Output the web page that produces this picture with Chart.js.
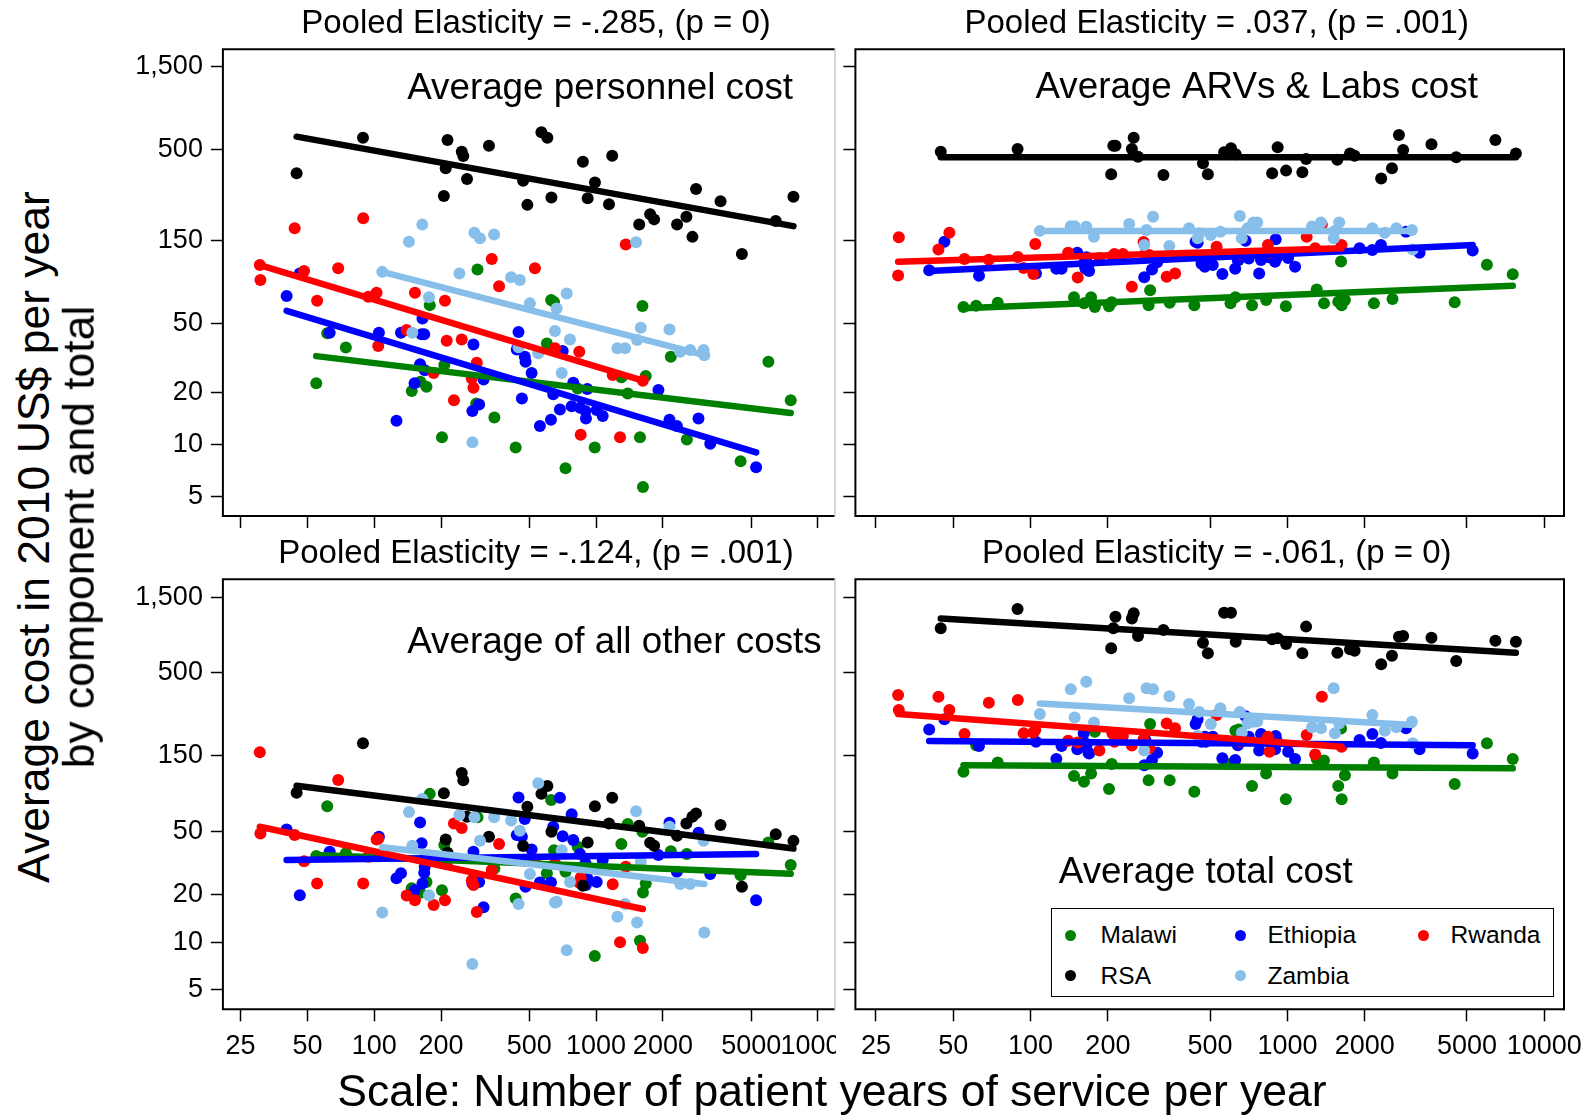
<!DOCTYPE html>
<html>
<head>
<meta charset="utf-8">
<script src="https://cdn.jsdelivr.net/npm/chart.js@4.4.0/dist/chart.umd.min.js"></script>
<style>
  html, body { margin: 0; padding: 0; background: #fff; }
  body { position: relative; width: 1595px; height: 1116px; overflow: hidden;
         font-family: "Liberation Sans", Arial, Helvetica, sans-serif; color: #000; }
  canvas { position: absolute; }
  .axis-title { position: absolute; white-space: nowrap; font-size: 44.5px; line-height: 1; }
  #legend { position: absolute; left: 1051px; top: 908px; width: 503px; height: 89px;
            border: 1.5px solid #000; box-sizing: border-box; background: #fff; }
  #legend .dot { position: absolute; width: 11px; height: 11px; border-radius: 50%; margin: -5.5px 0 0 -5.5px; }
  #legend .name { position: absolute; font-size: 24.5px; line-height: 1; transform: translateY(-50%); white-space: nowrap; }
</style>
</head>
<body>
<canvas id="personnel" width="736" height="540" style="left:100px;top:0px"></canvas>
<canvas id="arvlab" width="759" height="540" style="left:836px;top:0px"></canvas>
<canvas id="other" width="736" height="591" style="left:100px;top:525px"></canvas>
<canvas id="total" width="759" height="591" style="left:836px;top:525px"></canvas>

<div class="axis-title" style="left:832px;top:1091px;transform:translate(-50%,-50%)">Scale: Number of patient years of service per year</div>
<div class="axis-title" style="left:34px;top:537px;transform:translate(-50%,-50%) rotate(-90deg)">Average cost in 2010 US$ per year</div>
<div class="axis-title" style="left:79px;top:537px;transform:translate(-50%,-50%) rotate(-90deg)">by component and total</div>
<div id="legend"></div>

<script>
"use strict";

var countries = ['Malawi', 'Ethiopia', 'Rwanda', 'RSA', 'Zambia'];
var countryColors = ['#008000', '#0000ff', '#ff0000', '#000000', '#87bfea'];

var xTicks = [25, 50, 100, 200, 500, 1000, 2000, 5000, 10000];
var xTickLabels = ['25', '50', '100', '200', '500', '1000', '2000', '5000', '10000'];
var yTicks = [5, 10, 20, 50, 150, 500, 1500];
var yTickLabels = ['5', '10', '20', '50', '150', '500', '1,500'];

// patient years of service per year, one entry per facility
var malawiYears = [54.8, 61.4, 74.5, 147.6, 161.4, 172, 178, 202, 207, 288, 292, 348, 434, 600, 627, 646, 728, 826, 986, 1300, 1388, 1577, 1617, 1626, 1674, 2171, 2564, 4478, 5977, 7535];
var ethiopiaYears = [40.3, 46.2, 63, 105, 126, 132, 152, 161, 163.5, 165, 168, 169, 277, 280, 297, 311, 439, 447, 463, 477, 481, 512, 558, 626, 641, 687, 707, 776, 789, 846, 895, 900, 913, 1006, 1071, 1909, 2141, 2312, 2894, 3269, 5261];
var rwandaYears = [30.5, 30.7, 43.8, 48.3, 55.3, 68.8, 89.2, 94, 102.5, 104.3, 140, 152.6, 185.3, 208.4, 212.1, 228.8, 247.9, 275.3, 280.2, 289.9, 338.7, 365.4, 529.9, 652.8, 839.7, 852, 1188, 1282, 1361, 1624];
var rsaYears = [44.7, 89, 206, 210, 214, 248, 252, 262, 329, 469, 490, 567, 603, 629, 872, 916, 988, 1143, 1182, 1564, 1752, 1826, 2317, 2552, 2717, 2821, 3637, 4540, 6450, 7750];
var zambiaYears = [108.7, 143.4, 148.5, 164.7, 176.5, 242, 277, 282.8, 299.8, 347, 414, 447.2, 453.3, 503, 548.3, 652.5, 664.2, 699.6, 736.9, 762.6, 1247, 1351, 1514, 1530, 1590, 2141, 2393, 2655, 3051, 3073];

// average personnel cost
var malawiPersonnel = [22.5, 43.7, 36.2, 20.3, 23.0, 21.5, 63.5, 11.0, 28.7, 17.2, 102, 14.3, 9.6, 38.2, 68, 66.3, 7.3, 21, 9.6, 24.4, 19.7, 11.0, 62.7, 5.7, 24.8, 32, 10.7, 8.0, 30, 18];
var ethiopiaPersonnel = [71.6, 96.6, 44, 44, 13.7, 44, 22.5, 29, 43.1, 53.2, 43.1, 26.8, 15.6, 37.7, 17, 23.7, 35.3, 44.5, 18.4, 32, 30, 25.8, 12.8, 13.9, 19.5, 15.9, 34.6, 16.6, 22.7, 16.3, 15.6, 14.1, 20.9, 15.8, 14.6, 20.6, 13.9, 12.8, 14.1, 10.1, 7.4];
var rwandaPersonnel = [108, 88.5, 176, 99.8, 67.2, 103.5, 201, 70.9, 74.8, 36.9, 45.6, 74.8, 25.8, 67.2, 39.6, 18, 40.3, 24, 21.2, 29.6, 117, 81.6, 103.5, 35.8, 34.2, 11.4, 25.1, 11, 142, 23.3];
var rsaPersonnel = [365, 585, 270, 390, 567, 485, 459, 338, 526, 330, 240, 628, 585, 265, 425, 262, 323, 242, 460, 185, 212, 198, 185, 205, 157, 296, 252, 125, 194, 267];
var zambiaPersonnel = [98.7, 147, 44, 184.7, 70.4, 96.6, 10.3, 166, 154, 162, 91.8, 36.3, 88.5, 65, 33.5, 45, 60.8, 25.8, 74.2, 40.3, 35.8, 35.8, 146, 40, 47, 46, 34.2, 35, 35, 32.7];

// average ARVs & labs cost
var malawiArvLab = [62, 63, 65.6, 70.5, 65, 70.5, 62, 62.6, 66, 63.4, 77.4, 65.6, 63.4, 65, 70.5, 115.7, 63.4, 68, 62.6, 78.2, 65, 66.4, 113.3, 63.4, 68, 65, 68.9, 66, 108.4, 95.6];
var ethiopiaArvLab = [101, 147, 93.8, 96.6, 103, 103, 127, 110, 103, 120, 108, 100, 91.9, 125, 102, 112, 147, 145, 110, 105.5, 112, 108, 96, 103, 115, 149, 118, 96.6, 115.7, 120, 113, 152, 120, 118.5, 105.5, 135, 132, 141, 168, 127, 131];
var rwandaArvLab = [94, 156, 133, 166, 117, 116, 120.4, 104, 96, 143, 127, 91.5, 118.6, 122, 125, 125, 81, 146.6, 125, 123.3, 92.5, 96.6, 137.9, 125, 141, 127, 157, 135, 184.6, 141];
var rsaArvLab = [485, 503, 360, 526, 526, 503, 585, 455, 357, 417, 360, 482, 508, 469, 365, 515, 378, 370, 441, 436, 475, 460, 341, 390, 607, 497, 536, 451, 567, 475];
var zambiaArvLab = [170, 181, 181, 179.6, 157, 186, 141, 172, 205, 139, 176, 154, 164.6, 161, 168, 207, 154, 176, 189.7, 189.7, 180, 189.7, 154, 170, 189.7, 176, 166, 176, 172, 133];

// average of all other costs
var malawiOther = [35, 72.2, 36.4, 21.9, 20.5, 24, 86.3, 21.3, 41, 24, 61.5, 29.2, 18.9, 27.2, 78.9, 38, 27.8, 40, 8.2, 41.7, 55.7, 10.2, 49.7, 20.6, 23.5, 37.5, 36, 26.5, 42.6, 30.7];
var ethiopiaOther = [51.5, 19.8, 37.2, 46.3, 25.3, 27.2, 21.3, 57, 42.1, 23.5, 27.4, 29.9, 23.5, 37.2, 24, 16.6, 47.5, 82, 46.3, 59.9, 22.4, 38.5, 23.8, 23.8, 53.5, 81.5, 46.7, 64.1, 44.1, 36, 31.5, 23, 25.3, 24, 33, 35.5, 56.7, 27.8, 49.1, 26.9, 18.4];
var rwandaOther = [158, 48.6, 47.5, 32.4, 23.5, 105.5, 23.5, 34.6, 44.5, 45, 19.7, 18.4, 17.2, 18.4, 31.1, 56.2, 52.6, 24.6, 23, 15.5, 28.6, 41.7, 33.3, 31.5, 23.7, 25.5, 23.2, 10, 29.9, 9.2];
var rsaOther = [87.7, 180, 87, 44.5, 36.7, 117, 105, 62, 46.3, 40.4, 71.6, 86.3, 96.8, 49.8, 22.7, 42.6, 72.2, 56.2, 81.5, 54.3, 42.4, 40.6, 47, 56.2, 62, 65, 54.9, 22.4, 48, 43.6];
var zambiaOther = [15.4, 66.4, 40.6, 80.1, 19.8, 63.4, 7.3, 61.5, 43.7, 61.5, 58.6, 17.4, 50.5, 26.9, 100.7, 17.8, 18, 38.1, 8.9, 24, 14.5, 17.4, 67.1, 13.3, 32.2, 53.5, 23.3, 23.3, 43.7, 11.5];

// average total cost
var malawiTotal = [119, 175, 136, 112, 103, 116, 213, 92.6, 133, 105, 238, 105, 89, 133, 216, 220, 96.8, 116, 79.8, 143, 140, 96.8, 223, 79.8, 113, 136, 116, 99.5, 180, 143];
var ethiopiaTotal = [220, 255, 173, 184, 143, 173, 165, 208, 180, 174, 157, 155, 131, 189, 141, 157, 238, 255, 184, 198, 184, 198, 145, 141, 175, 267, 198, 162, 206, 189, 165, 200, 184, 159, 143, 189, 206, 181, 224, 165, 155];
var rwandaTotal = [363, 292, 354, 292, 206, 324, 337, 208, 210, 218, 187, 182, 162, 208, 184, 200, 174, 191, 167, 168, 240, 224, 271, 184, 198, 159, 203, 153, 354, 171];
var rsaTotal = [956, 1264, 715, 956, 1131, 1104, 1189, 855, 934, 776, 665, 1200, 1200, 787, 815, 827, 761, 665, 980, 670, 705, 690, 568, 642, 846, 855, 834, 594, 798, 787];
var zambiaTotal = [275, 394, 262, 440, 243, 346, 162, 400, 394, 357, 318, 200, 284, 238, 299, 284, 210, 240, 246, 247, 227, 224, 400, 208, 240, 271, 216, 227, 246, 180];

// fitted log-log lines: cost at smallest and largest facility of each country
var personnelFitStart = [32.3, 58.9, 108, 593, 98.7];
var personnelFitEnd = [15.2, 9.0, 23.3, 181, 32.7];
var arvLabFitStart = [61, 100, 113, 451, 170];
var arvLabFitEnd = [82, 141, 135, 451, 170];
var otherFitStart = [35.5, 33, 53.5, 97, 39.7];
var otherFitEnd = [27, 36, 16.2, 39, 23.3];
var totalFitStart = [131, 186, 275, 1104, 321];
var totalFitEnd = [125, 175, 171, 670, 235];

var countryYears = [malawiYears, ethiopiaYears, rwandaYears, rsaYears, zambiaYears];

var FONT = '"Liberation Sans", Arial, Helvetica, sans-serif';
Chart.defaults.font.family = FONT;
Chart.defaults.color = '#000';

var panels = [
    {
        id: 'personnel',
        title: 'Pooled Elasticity = -.285, (p = 0)',
        label: 'Average personnel cost',
        values: [malawiPersonnel, ethiopiaPersonnel, rwandaPersonnel, rsaPersonnel, zambiaPersonnel],
        fitStart: personnelFitStart, fitEnd: personnelFitEnd,
        yMin: 3.875, yMax: 1889,
        leftLabels: true, bottomLabels: false,
        yAxisWidth: 122.9, xAxisHeight: 24, padTop: 49.3, padRight: 1,
        labelX: 0.301, labelY: 0.084, rightEdge: '#c8c8c8'
    },
    {
        id: 'arvlab',
        title: 'Pooled Elasticity = .037, (p = .001)',
        label: 'Average ARVs & Labs cost',
        values: [malawiArvLab, ethiopiaArvLab, rwandaArvLab, rsaArvLab, zambiaArvLab],
        fitStart: arvLabFitStart, fitEnd: arvLabFitEnd,
        yMin: 3.875, yMax: 1889,
        leftLabels: false, bottomLabels: false,
        yAxisWidth: 19.4, xAxisHeight: 24, padTop: 49.3, padRight: 31,
        labelX: 0.254, labelY: 0.082, rightEdge: '#000'
    },
    {
        id: 'other',
        title: 'Pooled Elasticity = -.124, (p = .001)',
        label: 'Average of all other costs',
        values: [malawiOther, ethiopiaOther, rwandaOther, rsaOther, zambiaOther],
        fitStart: otherFitStart, fitEnd: otherFitEnd,
        yMin: 3.774, yMax: 1949,
        leftLabels: true, bottomLabels: true,
        yAxisWidth: 122.9, xAxisHeight: 106.7, padTop: 54.3, padRight: 1,
        labelX: 0.301, labelY: 0.148, rightEdge: '#c8c8c8'
    },
    {
        id: 'total',
        title: 'Pooled Elasticity = -.061, (p = 0)',
        label: 'Average total cost',
        values: [malawiTotal, ethiopiaTotal, rwandaTotal, rsaTotal, zambiaTotal],
        fitStart: totalFitStart, fitEnd: totalFitEnd,
        yMin: 3.774, yMax: 1949,
        leftLabels: false, bottomLabels: true,
        yAxisWidth: 19.4, xAxisHeight: 106.7, padTop: 54.3, padRight: 31,
        labelX: 0.287, labelY: 0.683, rightEdge: '#000'
    }
];

// frame, panel heading and the text label inside each plot
var panelDecor = {
    id: 'panelDecor',
    afterDraw: function (chart, args, opts) {
        var a = chart.chartArea;
        var ctx = chart.ctx;
        ctx.save();
        ctx.strokeStyle = '#000';
        ctx.lineWidth = 2;
        ctx.beginPath();
        ctx.moveTo(a.right, a.top);
        ctx.lineTo(a.left, a.top);
        ctx.lineTo(a.left, a.bottom);
        ctx.lineTo(a.right, a.bottom);
        ctx.stroke();
        ctx.strokeStyle = opts.rightEdge;
        ctx.lineWidth = opts.rightEdge === '#000' ? 2 : 1.5;
        ctx.beginPath();
        ctx.moveTo(a.right, a.top - 1);
        ctx.lineTo(a.right, a.bottom + 1);
        ctx.stroke();

        ctx.fillStyle = '#000';
        ctx.textBaseline = 'middle';
        ctx.font = '33px ' + FONT;
        ctx.textAlign = 'center';
        ctx.fillText(opts.title, (a.left + a.right) / 2 + 7, a.top - 25);

        ctx.font = '36.8px ' + FONT;
        ctx.textAlign = 'left';
        ctx.fillText(opts.label, a.left + opts.labelX * (a.right - a.left), a.top + opts.labelY * (a.bottom - a.top));
        ctx.restore();
    }
};

// keep tick labels from pulling the plot area in; edge labels may be clipped
function noLabelPadding(axis) {
    axis.paddingLeft = 0;
    axis.paddingRight = 0;
    axis.paddingTop = 0;
    axis.paddingBottom = 0;
}

function buildPanel(p) {
    var datasets = [];
    countries.forEach(function (name, i) {
        var ys = p.values[i];
        datasets.push({
            label: name,
            data: countryYears[i].map(function (x, j) { return {x: x, y: ys[j]}; }),
            backgroundColor: countryColors[i],
            borderColor: countryColors[i],
            borderWidth: 0,
            pointRadius: 6,
            showLine: false,
            order: 10 - i
        });
    });
    countries.forEach(function (name, i) {
        var xs = countryYears[i];
        datasets.push({
            label: name + ' fit',
            data: [
                {x: Math.min.apply(null, xs), y: p.fitStart[i]},
                {x: Math.max.apply(null, xs), y: p.fitEnd[i]}
            ],
            borderColor: countryColors[i],
            borderWidth: 6.5,
            borderCapStyle: 'round',
            pointRadius: 0,
            showLine: true,
            order: 5 - i
        });
    });

    return new Chart(document.getElementById(p.id), {
        type: 'scatter',
        data: {datasets: datasets},
        plugins: [panelDecor],
        options: {
            responsive: false,
            animation: false,
            devicePixelRatio: 1,
            events: [],
            layout: {
                autoPadding: false,
                padding: {top: p.padTop, right: p.padRight, bottom: 0, left: 0}
            },
            plugins: {
                legend: {display: false},
                tooltip: {enabled: false},
                title: {display: false},
                panelDecor: {title: p.title, label: p.label, labelX: p.labelX, labelY: p.labelY, rightEdge: p.rightEdge}
            },
            scales: {
                x: {
                    type: 'logarithmic',
                    position: 'bottom',
                    min: 20.8,
                    max: 11930,
                    afterBuildTicks: function (axis) {
                        axis.ticks = xTicks.map(function (v) { return {value: v}; });
                    },
                    afterFit: function (axis) {
                        axis.height = p.xAxisHeight;
                        noLabelPadding(axis);
                    },
                    border: {display: false},
                    grid: {drawOnChartArea: false, drawTicks: true, tickLength: 12, tickWidth: 1.5, tickColor: '#000'},
                    ticks: {
                        display: p.bottomLabels,
                        autoSkip: false,
                        maxRotation: 0,
                        minRotation: 0,
                        padding: 9,
                        color: '#000',
                        font: {size: 27},
                        callback: function (v) { return xTickLabels[xTicks.indexOf(v)]; }
                    }
                },
                y: {
                    type: 'logarithmic',
                    position: 'left',
                    min: p.yMin,
                    max: p.yMax,
                    afterBuildTicks: function (axis) {
                        axis.ticks = yTicks.map(function (v) { return {value: v}; });
                    },
                    afterFit: function (axis) {
                        axis.width = p.yAxisWidth;
                        noLabelPadding(axis);
                    },
                    border: {display: false},
                    grid: {drawOnChartArea: false, drawTicks: true, tickLength: 12, tickWidth: 1.5, tickColor: '#000'},
                    ticks: {
                        display: p.leftLabels,
                        autoSkip: false,
                        padding: 8,
                        color: '#000',
                        font: {size: 27},
                        callback: function (v) { return yTickLabels[yTicks.indexOf(v)]; }
                    }
                }
            }
        }
    });
}

panels.forEach(buildPanel);

// legend in three columns: dot offset, text offset, row offset inside the box
var legendCols = [[18, 48.6], [188, 215.5], [371, 398.6]];
var legendRows = [26, 66.5];
var legend = document.getElementById('legend');
countries.forEach(function (name, i) {
    var col = legendCols[i % 3];
    var row = legendRows[Math.floor(i / 3)];
    var dot = document.createElement('span');
    dot.className = 'dot';
    dot.style.left = col[0] + 'px';
    dot.style.top = row + 'px';
    dot.style.background = countryColors[i];
    var txt = document.createElement('span');
    txt.className = 'name';
    txt.style.left = col[1] + 'px';
    txt.style.top = row + 'px';
    txt.textContent = name;
    legend.appendChild(dot);
    legend.appendChild(txt);
});
</script>
</body>
</html>
